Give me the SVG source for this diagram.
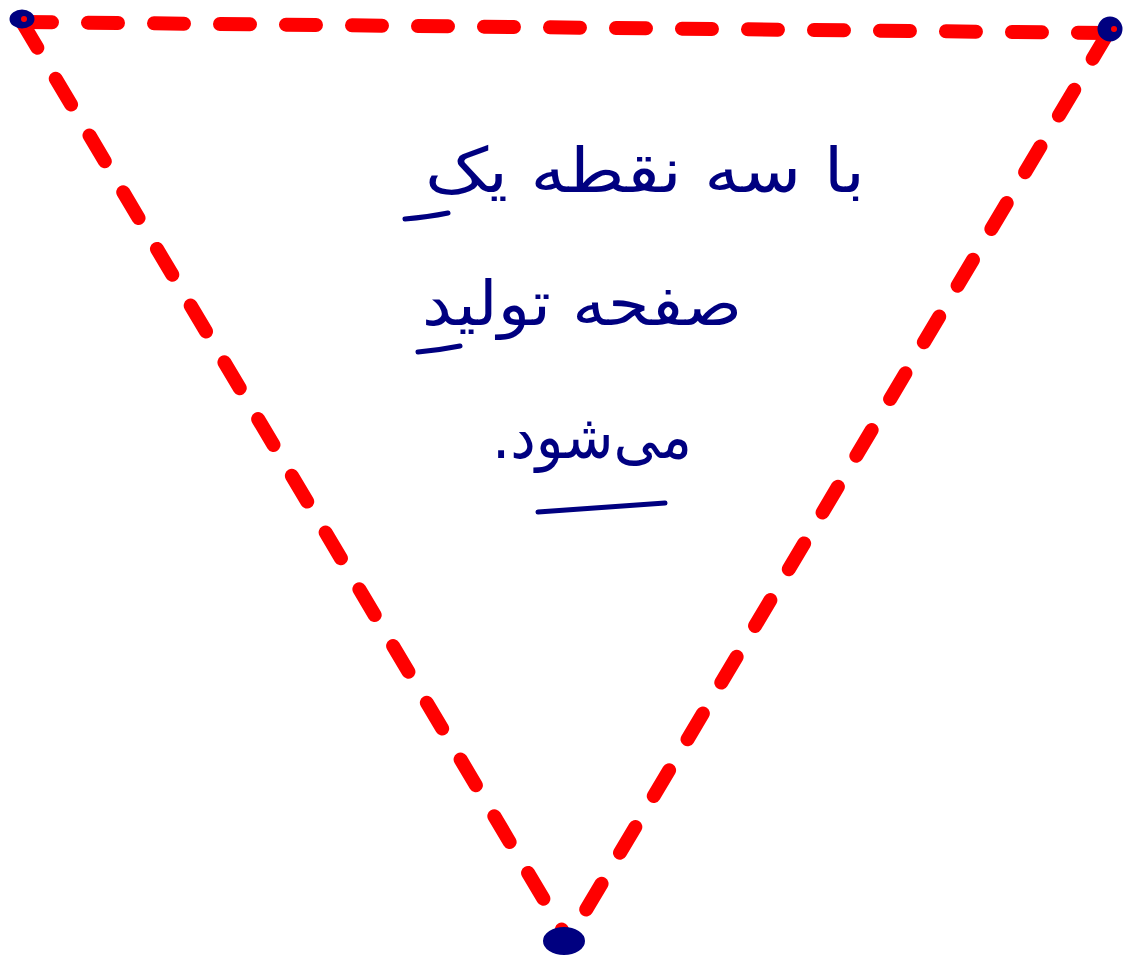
<svg xmlns="http://www.w3.org/2000/svg" width="1136" height="963" viewBox="0 0 1136 963">
<style>
.edge{stroke:#ff0000;stroke-width:14;stroke-linecap:round;stroke-dasharray:30 36;fill:none}
.pt{fill:#000080;stroke:#000080}
.txt{font-family:"DejaVu Sans","Noto Sans",sans-serif;font-size:62px;fill:#000080;text-anchor:middle;direction:rtl}
.ul{stroke:#000080;stroke-width:5;stroke-linecap:round;fill:none}
</style>
<rect width="1136" height="963" fill="#ffffff"/>
<g id="connectors">
<line class="edge" x1="22" y1="22" x2="1108" y2="33"/>
<line class="edge" x1="22" y1="22" x2="562" y2="930"/>
<line class="edge" x1="1108" y1="33" x2="574" y2="930"/>
</g>
<g id="vertex-a">
<ellipse class="pt" cx="22" cy="19" rx="11" ry="8" stroke-width="3"/>
<circle cx="24" cy="19" r="3" fill="#ff0000"/>
</g>
<g id="vertex-b">
<ellipse class="pt" cx="1110" cy="29" rx="11" ry="11" stroke-width="3"/>
<circle cx="1114" cy="29" r="3" fill="#ff0000"/>
</g>
<g id="vertex-c">
<ellipse class="pt" cx="564" cy="941" rx="20" ry="13" stroke-width="2"/>
</g>
<g id="label">
<text class="txt" x="645" y="192" textLength="440" lengthAdjust="spacingAndGlyphs">با سه نقطه یک</text>
<text class="txt" x="582" y="325" textLength="320" lengthAdjust="spacingAndGlyphs">صفحه تولید</text>
<text class="txt" x="592" y="458" textLength="200" lengthAdjust="spacingAndGlyphs">می‌شود.</text>
<path class="ul" d="M405 219 Q428 217 448 213"/>
<path class="ul" d="M418 352 Q440 350 460 346"/>
<path class="ul" d="M538 512 L665 503"/>
</g>
</svg>
